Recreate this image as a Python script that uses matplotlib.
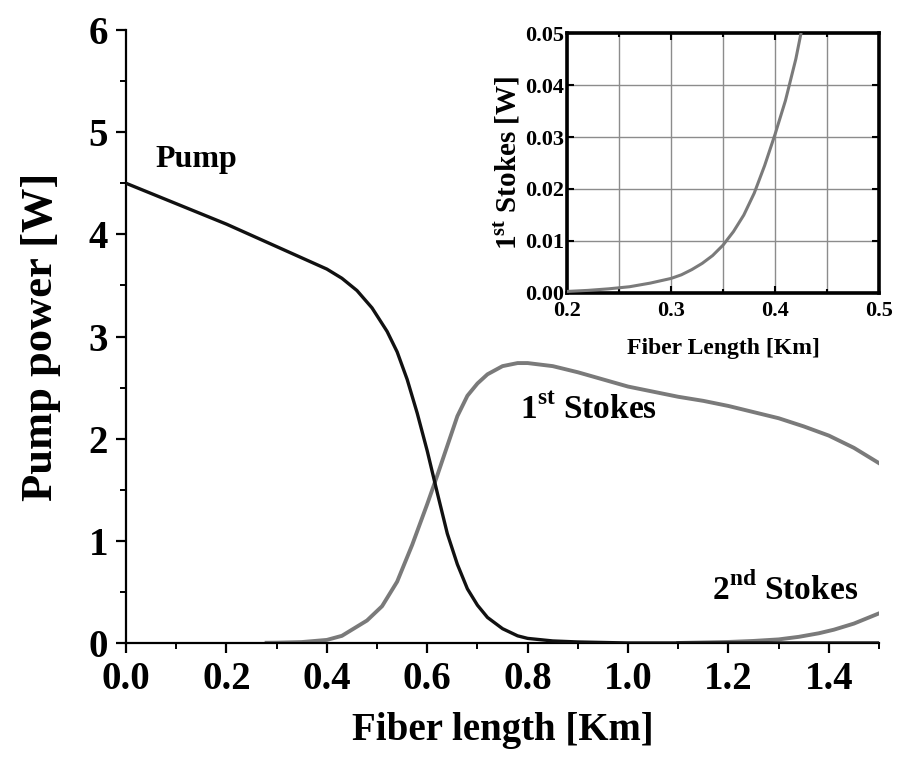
import numpy as np
import matplotlib.pyplot as plt
from matplotlib.ticker import MultipleLocator

plt.rcParams['font.family'] = ['Liberation Serif', 'DejaVu Serif']
plt.rcParams['font.weight'] = 'bold'
plt.rcParams['mathtext.fontset'] = 'custom'
plt.rcParams['mathtext.rm'] = 'Liberation Serif:bold'
plt.rcParams['mathtext.bf'] = 'Liberation Serif:bold'

# main plot, values
pump_x = [0.0, 0.05, 0.1, 0.15, 0.2, 0.25, 0.3, 0.35, 0.4, 0.43, 0.46, 0.49, 0.52, 0.54,
          0.56, 0.58, 0.6, 0.62, 0.64, 0.66, 0.68, 0.7, 0.72, 0.75, 0.78, 0.8,
          0.85, 0.9, 1.0, 1.1, 1.2, 1.3, 1.4, 1.5]
pump_y = [4.5, 4.4, 4.3, 4.2, 4.1, 3.99, 3.88, 3.77, 3.66, 3.57, 3.45, 3.28, 3.05, 2.85,
          2.58, 2.25, 1.88, 1.47, 1.07, 0.77, 0.53, 0.37, 0.25, 0.14, 0.07, 0.045,
          0.02, 0.01, 0.0, 0.0, 0.0, 0.0, 0.0, 0.0]

stokes1_x = [0.28, 0.3, 0.35, 0.4, 0.43, 0.45, 0.48, 0.51, 0.54, 0.57, 0.6, 0.62, 0.64,
             0.66, 0.68, 0.7, 0.72, 0.75, 0.78, 0.8, 0.85, 0.9, 0.95, 1.0, 1.05, 1.1,
             1.15, 1.2, 1.25, 1.3, 1.35, 1.4, 1.45, 1.5]
stokes1_y = [0.002, 0.003, 0.009, 0.03, 0.07, 0.13, 0.22, 0.36, 0.6, 0.96, 1.36, 1.64, 1.93,
             2.22, 2.42, 2.54, 2.63, 2.71, 2.74, 2.74, 2.71, 2.65, 2.58, 2.51, 2.46, 2.41,
             2.37, 2.32, 2.26, 2.2, 2.12, 2.03, 1.91, 1.76]

stokes2_x = [1.1, 1.15, 1.2, 1.25, 1.3, 1.34, 1.38, 1.41, 1.45, 1.5]
stokes2_y = [0.0, 0.005, 0.01, 0.02, 0.035, 0.06, 0.095, 0.13, 0.19, 0.29]

# inset: 1st Stokes at the start of the fiber
inset_x = [0.2, 0.22, 0.24, 0.26, 0.28, 0.3, 0.31, 0.32, 0.33, 0.34, 0.35, 0.36, 0.37,
           0.38, 0.39, 0.4, 0.41, 0.42, 0.425]
inset_y = [0.0003, 0.0005, 0.0008, 0.0012, 0.0019, 0.0028, 0.0035, 0.0045, 0.0057, 0.0072,
           0.0092, 0.0118, 0.015, 0.0192, 0.0245, 0.0305, 0.037, 0.045, 0.05]

BLACK = '#111111'
GRAY = '#7a7a7a'

fig = plt.figure(figsize=(8.99, 7.64), dpi=100)
ax = fig.add_axes([0.1402, 0.1584, 0.8376, 0.8023])

ax.plot(pump_x, pump_y, color=BLACK, lw=2.4, zorder=3)
ax.plot(stokes1_x, stokes1_y, color=GRAY, lw=2.8, zorder=2)
ax.plot(stokes2_x, stokes2_y, color=GRAY, lw=2.8, zorder=2)

ax.set_xlim(0, 1.5)
ax.set_ylim(0, 6)
ax.xaxis.set_minor_locator(MultipleLocator(0.1))
ax.yaxis.set_major_locator(MultipleLocator(1))
ax.yaxis.set_minor_locator(MultipleLocator(0.5))
ax.set_xticks(np.arange(0, 1.41, 0.2))
ax.set_xticklabels(['%.1f' % v for v in np.arange(0, 1.41, 0.2)])
ax.spines['top'].set_visible(False)
ax.spines['right'].set_visible(False)
for s in ['left', 'bottom']:
    ax.spines[s].set_linewidth(1.6)
ax.tick_params(which='major', direction='out', length=7, width=1.6, labelsize=28, pad=6)
ax.tick_params(which='minor', direction='out', length=4, width=1.4)
for lab in ax.get_xticklabels() + ax.get_yticklabels():
    lab.set_fontweight('bold')

ax.set_xlabel('Fiber length [Km]', fontsize=28, fontweight='bold', labelpad=10)
ax.set_ylabel('Pump power [W]', fontsize=32, fontweight='bold', labelpad=20)

ax.text(0.058, 4.73, 'Pump', fontsize=23, fontweight='bold', va='center')
ax.text(0.785, 2.28, r'1$^{\mathbf{st}}$ Stokes', fontsize=24, fontweight='bold', va='center')
ax.text(1.168, 0.52, r'2$^{\mathbf{nd}}$ Stokes', fontsize=24, fontweight='bold', va='center')

# inset
ins = fig.add_axes([0.6307, 0.6165, 0.3471, 0.3403])
ins.plot(inset_x, inset_y, color=GRAY, lw=2.2, zorder=3)
ins.set_xlim(0.2, 0.5)
ins.set_ylim(0, 0.05)
ins.xaxis.set_major_locator(MultipleLocator(0.1))
ins.xaxis.set_minor_locator(MultipleLocator(0.05))
ins.yaxis.set_major_locator(MultipleLocator(0.01))
ins.grid(True, which='both', color='#8c8c8c', lw=1.0)
ins.xaxis.set_major_formatter(plt.FormatStrFormatter('%.1f'))
ins.yaxis.set_major_formatter(plt.FormatStrFormatter('%.2f'))
for s in ins.spines.values():
    s.set_linewidth(2.6)
ins.tick_params(which='both', direction='in', top=True, right=True, width=1.5,
                labelsize=16)
ins.tick_params(axis='x', pad=6)
ins.tick_params(axis='y', pad=2)
ins.tick_params(which='major', length=5)
ins.tick_params(which='minor', length=3)
for lab in ins.get_xticklabels() + ins.get_yticklabels():
    lab.set_fontweight('bold')
ins.set_xlabel('Fiber Length [Km]', fontsize=17, fontweight='bold', labelpad=12)
ins.set_ylabel(r'1$^{\mathbf{st}}$ Stokes [W]', fontsize=21, fontweight='bold', labelpad=2)

fig.savefig('out.png', dpi=100)
